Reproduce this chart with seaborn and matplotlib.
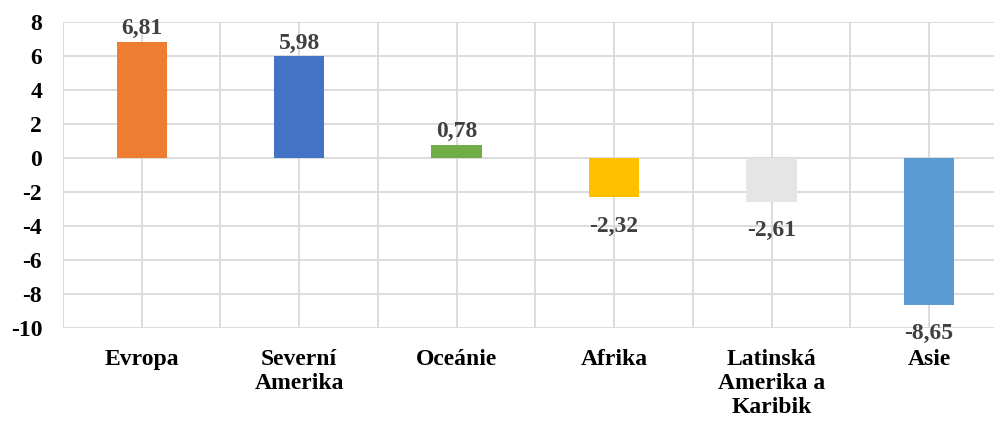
import matplotlib
matplotlib.use("Agg")
import matplotlib.pyplot as plt
import seaborn as sns
import pandas as pd
from matplotlib.ticker import FixedLocator

categories = ["Evropa", "Severní\nAmerika", "Oceánie", "Afrika", "Latinská\nAmerika a\nKaribik", "Asie"]
values = [6.81, 5.98, 0.78, -2.32, -2.61, -8.65]
colors = ["#ED7D31", "#4472C4", "#70AD47", "#FFC000", "#E5E5E5", "#5B9BD5"]
yticks = [-10, -8, -6, -4, -2, 0, 2, 4, 6, 8]

sns.set_style("white")
plt.rcParams["font.family"] = ["Liberation Serif", "DejaVu Serif"]

df = pd.DataFrame({"cat": categories, "val": values})

fig = plt.figure(figsize=(9.95, 4.21), dpi=100)
ax = fig.add_axes([63/995, 1 - 328/421, 944.7/995, 306/421])

sns.barplot(data=df, x="cat", y="val", hue="cat", palette=colors, legend=False,
            width=0.32, ax=ax, saturation=1, zorder=3, linewidth=0)

ax.set_xlim(-0.5, 5.5)
ax.set_ylim(-10, 8)
ax.set_yticks(yticks)
ax.set_yticklabels([str(t) for t in yticks])
ax.xaxis.set_minor_locator(FixedLocator([i - 0.5 for i in range(7)]))
ax.grid(True, which="major", axis="both", color="#D9D9D9", linewidth=1.3, zorder=0)
ax.grid(True, which="minor", axis="x", color="#D9D9D9", linewidth=1.3, zorder=0)
ax.set_axisbelow(True)
for s in ax.spines.values():
    s.set_visible(False)
ax.set_xlabel("")
ax.set_ylabel("")
ax.tick_params(axis="y", length=0, pad=15, labelsize=17)
ax.tick_params(axis="x", which="both", length=0, pad=15, labelsize=17)
for lab in ax.get_xticklabels() + ax.get_yticklabels():
    lab.set_fontweight("bold")
    lab.set_color("black")

for i, v in enumerate(values):
    txt = f"{v:.2f}".replace(".", ",")
    if v >= 0:
        ax.annotate(txt, (i, v), xytext=(0, 2), textcoords="offset points",
                    ha="center", va="bottom", fontsize=17, fontweight="bold", color="#404040")
    else:
        ax.annotate(txt, (i, v), xytext=(0, -13), textcoords="offset points",
                    ha="center", va="top", fontsize=17, fontweight="bold", color="#404040",
                    annotation_clip=False)

fig.savefig("out.png", dpi=100)
